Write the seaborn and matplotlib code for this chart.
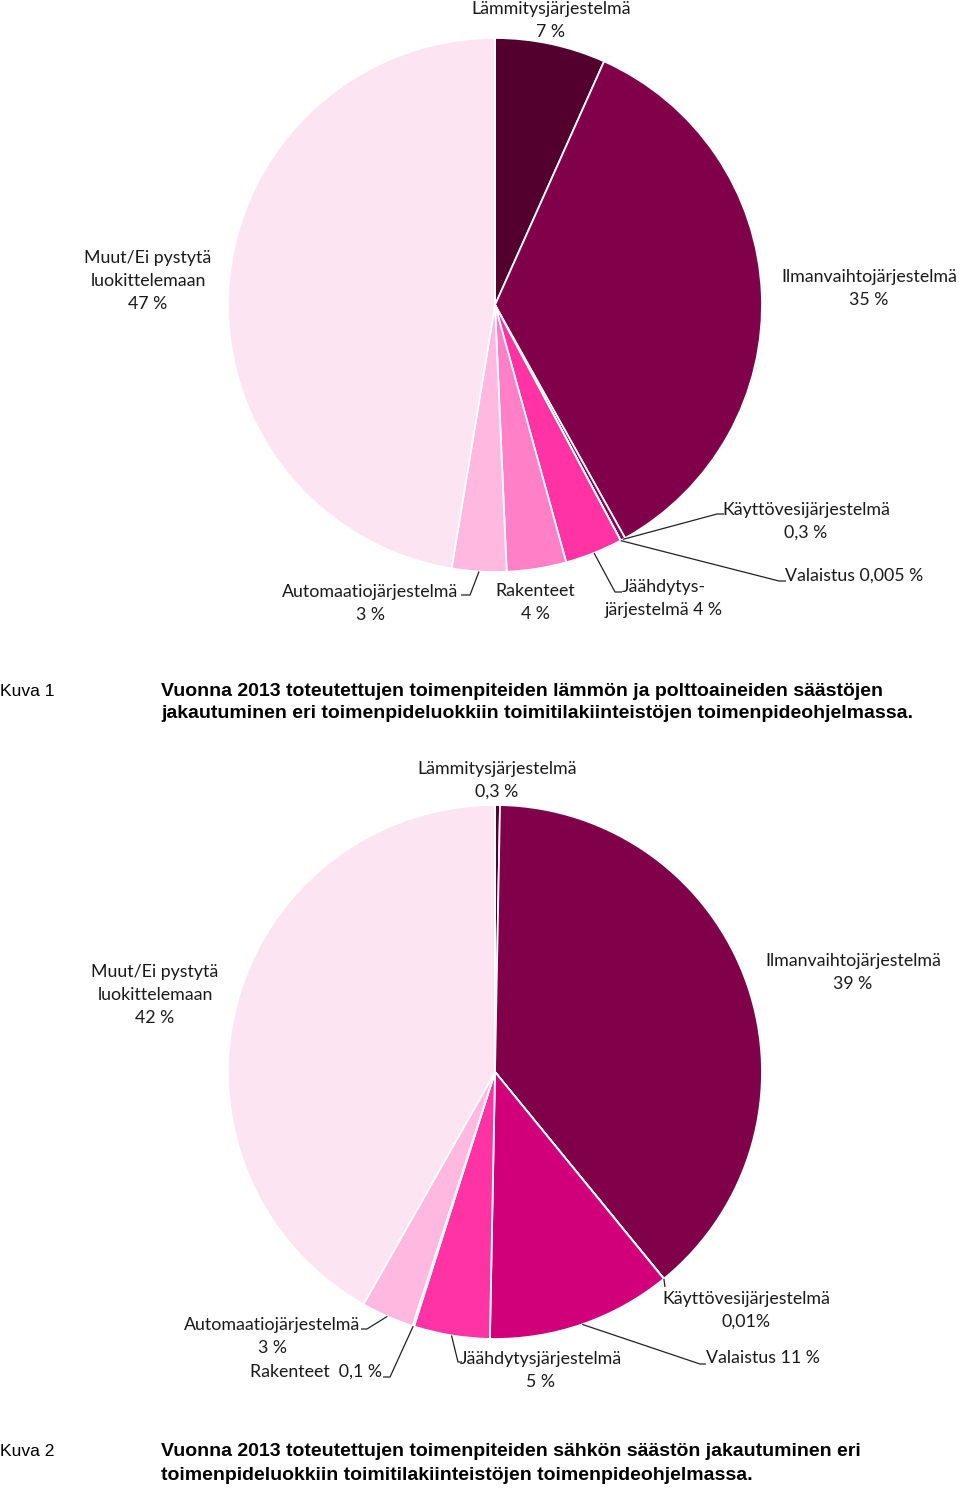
import numpy as np
import matplotlib
matplotlib.use("Agg")
import matplotlib.pyplot as plt
import seaborn as sns

# ---------------- data ----------------
categories = ["Lämmitysjärjestelmä", "Ilmanvaihtojärjestelmä", "Käyttövesijärjestelmä",
              "Valaistus", "Jäähdytysjärjestelmä", "Rakenteet",
              "Automaatiojärjestelmä", "Muut/Ei pystytä luokittelemaan"]
heat_values = [6.7, 35.2, 0.3, 0.005, 3.5, 3.6, 3.3, 47.4]
elec_values = [0.3, 38.8, 0.01, 11.2, 4.6, 0.1, 3.2, 41.8]
heat_labels = ["7 %", "35 %", "0,3 %", "0,005 %", "4 %", "4 %", "3 %", "47 %"]
elec_labels = ["0,3 %", "39 %", "0,01%", "11 %", "5 %", "0,1 %", "3 %", "42 %"]
colors_hex = ["#53002E", "#80004A", "#8A004F", "#D1007A",
              "#FF33A3", "#FF80C6", "#FFB9E0", "#FDE4F2"]
caption1 = ["Vuonna 2013 toteutettujen toimenpiteiden lämmön ja polttoaineiden säästöjen",
            "jakautuminen eri toimenpideluokkiin toimitilakiinteistöjen toimenpideohjelmassa."]
caption2 = ["Vuonna 2013 toteutettujen toimenpiteiden sähkön säästön jakautuminen eri",
            "toimenpideluokkiin toimitilakiinteistöjen toimenpideohjelmassa."]

# ---------------- style ----------------
sns.set_theme(style="white")
palette = sns.color_palette(colors_hex)
plt.rcParams['font.family'] = ['Lato', 'DejaVu Sans']

W, H = 960, 1490
fig = plt.figure(figsize=(W / 100, H / 100), dpi=100)
ax = fig.add_axes([0, 0, 1, 1])

def Y(ypx):
    return H - ypx

R = 267
C1 = (495, Y(305))
C2 = (495, Y(1072))

wedges1, _ = ax.pie(heat_values, colors=palette, startangle=90, counterclock=False,
                    center=C1, radius=R, normalize=True,
                    wedgeprops=dict(edgecolor="white", linewidth=1.3))
wedges2, _ = ax.pie(elec_values, colors=palette, startangle=90, counterclock=False,
                    center=C2, radius=R, normalize=True,
                    wedgeprops=dict(edgecolor="white", linewidth=1.3))

ax.set_xlim(0, W)
ax.set_ylim(0, H)
ax.set_axis_off()

FS = 12.8
TXT = "#1a1a1a"

def lines(x, ys, texts, ha="center"):
    for yy, t in zip(ys, texts):
        ax.text(x, Y(yy), t, ha=ha, va="center", fontsize=FS, color=TXT)

def anchor(w, frac=0.5):
    th = np.deg2rad(w.theta1 + (w.theta2 - w.theta1) * frac)
    cx, cy = w.center
    return cx + w.r * np.cos(th), cy + w.r * np.sin(th)

def leader(w, pts, frac=0.5):
    ax0, ay0 = anchor(w, frac)
    xs = [ax0] + [p[0] for p in pts]
    ys = [ay0] + [Y(p[1]) for p in pts]
    ax.plot(xs, ys, color="#222222", lw=0.9, solid_capstyle="butt")

# ---------- pie 1 labels ----------
lines(551, [9, 32], ["Lämmitysjärjestelmä", heat_labels[0]])
lines(869, [277, 300], ["Ilmanvaihtojärjestelmä", heat_labels[1]])
lines(806, [510, 533], ["Käyttövesijärjestelmä", heat_labels[2]])
leader(wedges1[2], [(717, 514), (724, 514)])
lines(785, [576], ["Valaistus " + heat_labels[3]], ha="left")
leader(wedges1[3], [(779, 581), (786, 581)])
lines(622, [587], ["Jäähdytys-"], ha="left")
lines(664, [610], ["järjestelmä " + heat_labels[4]])
leader(wedges1[4], [(615, 592), (622, 592)])
lines(535, [591, 614], ["Rakenteet", heat_labels[5]])
lines(370, [592, 615], ["Automaatiojärjestelmä", heat_labels[6]])
leader(wedges1[6], [(470, 595), (461, 595)])
lines(148, [258, 281, 304], ["Muut/Ei pystytä", "luokittelemaan", heat_labels[7]])

# ---------- pie 2 labels ----------
lines(497, [769, 792], ["Lämmitysjärjestelmä", elec_labels[0]])
lines(853, [961, 984], ["Ilmanvaihtojärjestelmä", elec_labels[1]])
lines(155, [972, 995, 1018], ["Muut/Ei pystytä", "luokittelemaan", elec_labels[7]])
lines(746, [1299, 1322], ["Käyttövesijärjestelmä", elec_labels[2]])
leader(wedges2[2], [(665, 1287)])
lines(706, [1358], ["Valaistus " + elec_labels[3]], ha="left")
leader(wedges2[3], [(700, 1364), (706, 1364)])
lines(541, [1359, 1382], ["Jäähdytysjärjestelmä", elec_labels[4]])
leader(wedges2[4], [(458, 1362), (462, 1362)])
lines(382, [1372], ["Rakenteet  " + elec_labels[5]], ha="right")
leader(wedges2[5], [(390, 1377), (383, 1377)])
lines(272, [1325, 1348], ["Automaatiojärjestelmä", elec_labels[6]])
leader(wedges2[6], [(367, 1329), (361, 1329)])

# ---------- captions ----------
NARROW = ['Liberation Sans Narrow', 'Liberation Sans', 'DejaVu Sans']
def caption(num, ytop, texts):
    ax.text(0, Y(ytop), num, ha="left", va="center", fontsize=12.6,
            family=NARROW, color="black")
    for i, t in enumerate(texts):
        ax.text(161, Y(ytop + 23 * i), t, ha="left", va="center", fontsize=14,
                family=NARROW, fontweight="bold", color="black")

caption("Kuva 1", 691, caption1)
caption("Kuva 2", 1452, caption2)

fig.savefig("out.png", dpi=100)
